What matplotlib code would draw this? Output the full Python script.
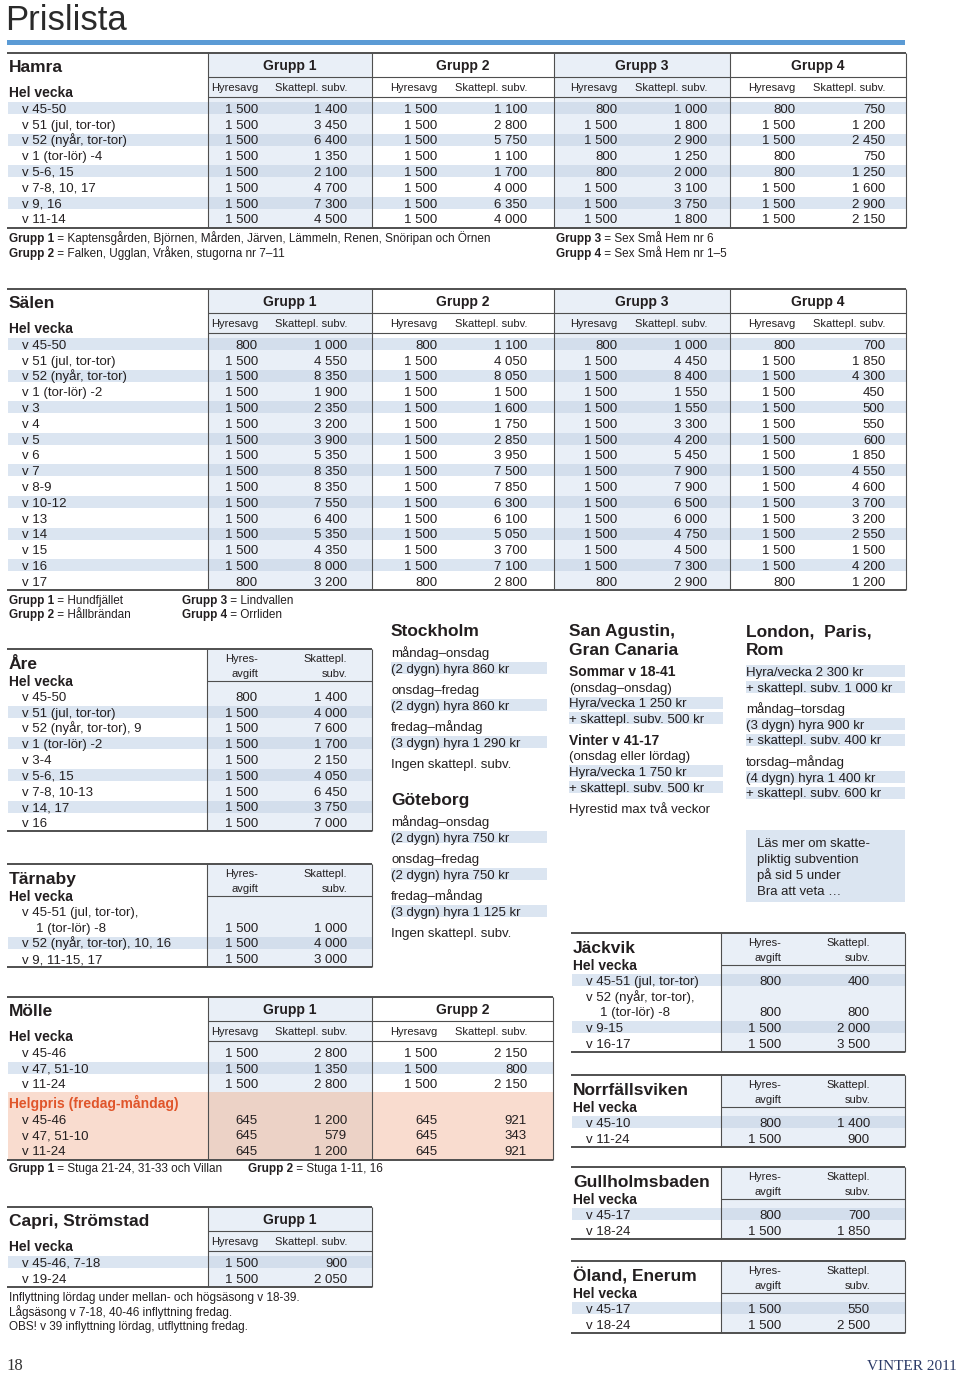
import matplotlib
matplotlib.use("Agg")
import matplotlib.pyplot as plt
from matplotlib.patches import Rectangle

# ---- data ----
hamra_labels = ["v 45-50", "v 51 (jul, tor-tor)", "v 52 (nyår, tor-tor)", "v 1 (tor-lör) -4",
                "v 5-6, 15", "v 7-8, 10, 17", "v 9, 16", "v 11-14"]
hamra_hyres = [[1500, 1500, 1500, 1500, 1500, 1500, 1500, 1500],
               [1500, 1500, 1500, 1500, 1500, 1500, 1500, 1500],
               [800, 1500, 1500, 800, 800, 1500, 1500, 1500],
               [800, 1500, 1500, 800, 800, 1500, 1500, 1500]]
hamra_skatt = [[1400, 3450, 6400, 1350, 2100, 4700, 7300, 4500],
               [1100, 2800, 5750, 1100, 1700, 4000, 6350, 4000],
               [1000, 1800, 2900, 1250, 2000, 3100, 3750, 1800],
               [750, 1200, 2450, 750, 1250, 1600, 2900, 2150]]
hamra_notes = [("Grupp 1", " = Kaptensgården, Björnen, Mården, Järven, Lämmeln, Renen, Snöripan och Örnen"),
               ("Grupp 2", " = Falken, Ugglan, Vråken, stugorna nr 7–11"),
               ("Grupp 3", " = Sex Små Hem nr 6"),
               ("Grupp 4", " = Sex Små Hem nr 1–5")]

salen_labels = ["v 45-50", "v 51 (jul, tor-tor)", "v 52 (nyår, tor-tor)", "v 1 (tor-lör) -2", "v 3", "v 4",
                "v 5", "v 6", "v 7", "v 8-9", "v 10-12", "v 13", "v 14", "v 15", "v 16", "v 17"]
salen_hyres = [[800, 1500, 1500, 1500, 1500, 1500, 1500, 1500, 1500, 1500, 1500, 1500, 1500, 1500, 1500, 800],
               [800, 1500, 1500, 1500, 1500, 1500, 1500, 1500, 1500, 1500, 1500, 1500, 1500, 1500, 1500, 800],
               [800, 1500, 1500, 1500, 1500, 1500, 1500, 1500, 1500, 1500, 1500, 1500, 1500, 1500, 1500, 800],
               [800, 1500, 1500, 1500, 1500, 1500, 1500, 1500, 1500, 1500, 1500, 1500, 1500, 1500, 1500, 800]]
salen_skatt = [[1000, 4550, 8350, 1900, 2350, 3200, 3900, 5350, 8350, 8350, 7550, 6400, 5350, 4350, 8000, 3200],
               [1100, 4050, 8050, 1500, 1600, 1750, 2850, 3950, 7500, 7850, 6300, 6100, 5050, 3700, 7100, 2800],
               [1000, 4450, 8400, 1550, 1550, 3300, 4200, 5450, 7900, 7900, 6500, 6000, 4750, 4500, 7300, 2900],
               [700, 1850, 4300, 450, 500, 550, 600, 1850, 4550, 4600, 3700, 3200, 2550, 1500, 4200, 1200]]
salen_notes = [("Grupp 1", " = Hundfjället"), ("Grupp 2", " = Hållbrändan"),
               ("Grupp 3", " = Lindvallen"), ("Grupp 4", " = Orrliden")]

are_labels = ["v 45-50", "v 51 (jul, tor-tor)", "v 52 (nyår, tor-tor), 9", "v 1 (tor-lör) -2", "v 3-4",
              "v 5-6, 15", "v 7-8, 10-13", "v 14, 17", "v 16"]
are_hyres = [800, 1500, 1500, 1500, 1500, 1500, 1500, 1500, 1500]
are_skatt = [1400, 4000, 7600, 1700, 2150, 4050, 6450, 3750, 7000]

tarnaby_labels = ["v 45-51 (jul, tor-tor),\n1 (tor-lör) -8", "v 52 (nyår, tor-tor), 10, 16", "v 9, 11-15, 17"]
tarnaby_hyres = [1500, 1500, 1500]
tarnaby_skatt = [1000, 4000, 3000]

molle_labels = ["v 45-46", "v 47, 51-10", "v 11-24"]
molle_hyres = [[1500, 1500, 1500], [1500, 1500, 1500]]
molle_skatt = [[2800, 1350, 2800], [2150, 800, 2150]]
molle_helg_hyres = [[645, 645, 645], [645, 645, 645]]
molle_helg_skatt = [[1200, 579, 1200], [921, 343, 921]]
molle_notes = [("Grupp 1", " = Stuga 21-24, 31-33 och Villan"), ("Grupp 2", " = Stuga 1-11, 16")]

capri_labels = ["v 45-46, 7-18", "v 19-24"]
capri_hyres = [[1500, 1500]]
capri_skatt = [[900, 2050]]
capri_notes = ["Inflyttning lördag under mellan- och högsäsong v 18-39.",
               "Lågsäsong v 7-18, 40-46 inflyttning fredag.",
               "OBS! v 39 inflyttning lördag, utflyttning fredag."]

jackvik_labels = ["v 45-51 (jul, tor-tor)", "v 52 (nyår, tor-tor),\n1 (tor-lör) -8", "v 9-15", "v 16-17"]
jackvik_hyres = [800, 800, 1500, 1500]
jackvik_skatt = [400, 800, 2000, 3500]

norr_labels = ["v 45-10", "v 11-24"]
norr_hyres = [800, 1500]
norr_skatt = [1400, 900]

gull_labels = ["v 45-17", "v 18-24"]
gull_hyres = [800, 1500]
gull_skatt = [700, 1850]

oland_labels = ["v 45-17", "v 18-24"]
oland_hyres = [1500, 1500]
oland_skatt = [550, 2500]

stockholm = [["måndag–onsdag", "(2 dygn) hyra 860 kr"], ["onsdag–fredag", "(2 dygn) hyra 860 kr"],
             ["fredag–måndag", "(3 dygn) hyra 1 290 kr"], ["Ingen skattepl. subv."]]
goteborg = [["måndag–onsdag", "(2 dygn) hyra 750 kr"], ["onsdag–fredag", "(2 dygn) hyra 750 kr"],
            ["fredag–måndag", "(3 dygn) hyra 1 125 kr"], ["Ingen skattepl. subv."]]
sanagustin = [["Sommar v 18-41", "(onsdag–onsdag)", "Hyra/vecka 1 250 kr", "+ skattepl. subv. 500 kr"],
              ["Vinter v 41-17", "(onsdag eller lördag)", "Hyra/vecka 1 750 kr", "+ skattepl. subv. 500 kr"],
              ["Hyrestid max två veckor"]]
london = [["Hyra/vecka 2 300 kr", "+ skattepl. subv. 1 000 kr"],
          ["måndag–torsdag", "(3 dygn) hyra 900 kr", "+ skattepl. subv. 400 kr"],
          ["torsdag–måndag", "(4 dygn) hyra 1 400 kr", "+ skattepl. subv. 600 kr"]]
lasmer = ["Läs mer om skatte-", "pliktig subvention", "på sid 5 under", "Bra att veta …"]

# ---- drawing ----
W, H = 960, 1375
fig = plt.figure(figsize=(9.6, 13.75), dpi=100)
ax = fig.add_axes([0, 0, 1, 1])
ax.axis("off")
R = fig.canvas.get_renderer()

FONT = ["Liberation Sans", "DejaVu Sans"]
INK = "#231f20"
STRIPE = "#dbe5f1"
TINT = "#e9eff7"
TINT_STRIPE = "#d3deec"
RULE = "#4f4f4f"
STEP = 15.8


def fmt(v):
    return f"{v:,}".replace(",", " ")


def txt(x, y, s, size=9.5, bold=False, ha="left", color=INK, va="center", family=FONT):
    # y is the visual middle of the capitals, so shift to a baseline
    if va == "center":
        va = "baseline"
        y = y + 0.36 * size * 100 / 72
    return ax.text(x, y, s, fontsize=size, fontweight="bold" if bold else "normal", ha=ha, va=va,
                   color=color, family=family, zorder=3)


def rect(x0, y0, x1, y1, color, z=0):
    ax.add_patch(Rectangle((x0, y0), x1 - x0, y1 - y0, facecolor=color, edgecolor="none", zorder=z))


def hline(x0, x1, y, lw=0.8, color=RULE):
    ax.plot([x0, x1], [y, y], color=color, lw=lw, solid_capstyle="butt", zorder=2)


def vline(x, y0, y1, lw=0.8, color=RULE):
    ax.plot([x, x], [y0, y1], color=color, lw=lw, solid_capstyle="butt", zorder=2)


def underlined(x, y, s, size=10, color=INK):
    t = txt(x, y, s, size, True, color=color)
    bb = t.get_window_extent(renderer=R)
    yl = H - bb.y0 - 1.5
    ax.plot([bb.x0, bb.x1], [yl, yl], color=color, lw=1.0, solid_capstyle="butt", zorder=3)


def boldpair(x, y, b, rest, size=8.5):
    t = txt(x, y, b, size, True)
    w = t.get_window_extent(renderer=R).width
    txt(x + w, y, rest, size)


def group_table(top, title, labels, hyres, skatt, edges, hx, sx, tinted, stripe_odd, extra=0.0, x0=7):
    n = len(labels)
    first = top + 55
    bottom = first + (n - 1) * STEP + 9 + extra
    right = edges[-1]
    for g in range(len(edges) - 1):
        if tinted[g]:
            rect(edges[g], top, edges[g + 1], bottom, TINT)
    for i in range(n):
        y = first + i * STEP
        if (i % 2 == 1) == stripe_odd:
            rect(x0 + 1, y - 6, edges[0], y + 6, STRIPE, 0.5)
            for g in range(len(edges) - 1):
                rect(edges[g], y - 6, edges[g + 1], y + 6, TINT_STRIPE if tinted[g] else STRIPE, 0.5)
        txt(x0 + 15, y, labels[i])
        for g in range(len(edges) - 1):
            txt(hx[g], y, fmt(hyres[g][i]), ha="right")
            txt(sx[g], y, fmt(skatt[g][i]), ha="right")
    hline(x0, right, top, 1.4)
    hline(x0, right, bottom, 1.4)
    hline(edges[0], right, top + 24)
    hline(edges[0], right, top + 44)
    for e in edges:
        vline(e, top, bottom)
    txt(x0 + 2, top + 13, title, 12.5, True)
    underlined(x0 + 2, top + 39, "Hel vecka")
    for g in range(len(edges) - 1):
        txt((edges[g] + edges[g + 1]) / 2, top + 12, f"Grupp {g + 1}", 10, True, ha="center")
        txt(hx[g], top + 34, "Hyresavg", 8, ha="right")
        txt(sx[g], top + 34, "Skattepl. subv.", 8, ha="right")
    return first, bottom


def small_table(x0, xv, x1, top, title, labels, hyres, skatt, hx, sx, stripe_odd):
    first = top + 47
    total = sum(len(l.split("\n")) for l in labels)
    bottom = first + (total - 1) * STEP + 9
    rect(xv, top, x1, bottom, TINT)
    slot = 0
    for i, lab in enumerate(labels):
        lines = lab.split("\n")
        ylast = first + (slot + len(lines) - 1) * STEP
        if (i % 2 == 1) == stripe_odd:
            rect(x0 + 1, ylast - 6, xv, ylast + 6, STRIPE, 0.5)
            rect(xv, ylast - 6, x1, ylast + 6, TINT_STRIPE, 0.5)
        for j, line in enumerate(lines):
            txt(x0 + 15 + (14 if j else 0), first + (slot + j) * STEP, line)
        txt(hx, ylast, fmt(hyres[i]), ha="right")
        txt(sx, ylast, fmt(skatt[i]), ha="right")
        slot += len(lines)
    hline(x0, x1, top, 1.4)
    hline(x0, x1, bottom, 1.4)
    hline(xv, x1, top + 32)
    vline(xv, top, bottom)
    vline(x1, top, bottom)
    txt(x0 + 2, top + 14, title, 12.5, True)
    underlined(x0 + 2, top + 32, "Hel vecka")
    txt(hx, top + 9, "Hyres-", 8, ha="right")
    txt(hx, top + 24, "avgift", 8, ha="right")
    txt(sx, top + 9, "Skattepl.", 8, ha="right")
    txt(sx, top + 24, "subv.", 8, ha="right")


def info_block(x, x1, titles, y_title, groups):
    for k, t in enumerate(titles):
        txt(x, y_title + k * 19, t, 12.5, True)
    y = y_title + (len(titles) - 1) * 19 + 22
    for grp in groups:
        for line in grp:
            if "kr" in line:
                rect(x, y - 6, x1, y + 6, STRIPE, 0.5)
            bold = line.startswith(("Sommar", "Vinter"))
            txt(x, y, line, 10 if bold else 9.5, bold)
            y += STEP
        y += 5.5


# header
txt(5, 30, "Prislista", 25, va="baseline", color="#2a2a2a")
rect(7, 40, 905, 45, "#5b9bd5")

# Hamra
edges4 = [208, 372, 554, 730, 906]
hx4 = [258, 437, 617, 795]
sx4 = [347, 527, 707, 885]
group_table(53, "Hamra", hamra_labels, hamra_hyres, hamra_skatt, edges4, hx4, sx4,
            [True, False, True, False], False)
boldpair(9, 238, *hamra_notes[0])
boldpair(9, 253, *hamra_notes[1])
boldpair(556, 238, *hamra_notes[2])
boldpair(556, 253, *hamra_notes[3])

# Sälen
group_table(289, "Sälen", salen_labels, salen_hyres, salen_skatt, edges4, hx4, sx4,
            [True, False, True, False], False)
boldpair(9, 600, *salen_notes[0])
boldpair(9, 614, *salen_notes[1])
boldpair(182, 600, *salen_notes[2])
boldpair(182, 614, *salen_notes[3])

# Åre, Tärnaby
small_table(7, 207, 372, 649, "Åre", are_labels, are_hyres, are_skatt, 258, 347, True)
small_table(7, 207, 372, 864, "Tärnaby", tarnaby_labels, tarnaby_hyres, tarnaby_skatt, 258, 347, True)

# Mölle with weekend section
edges2 = [208, 372, 553]
extra = 3 * STEP + 4 + STEP
first, bottom = group_table(997, "Mölle", molle_labels, molle_hyres, molle_skatt, edges2, hx4[:2], sx4[:2],
                            [True, False], True, extra=extra)
salmon_top = first + (len(molle_labels) - 1) * STEP + 8
rect(8, salmon_top, edges2[-1], bottom, "#f9dccf", 0.6)
rect(edges2[0], salmon_top, edges2[1], bottom, "#ecd2c6", 0.6)
hy = salmon_top + 11.5
underlined(9, hy, "Helgpris (fredag-måndag)", 10, "#e0552a")
for i, lab in enumerate(molle_labels):
    y = hy + (i + 1) * STEP
    txt(22, y, lab)
    for g in range(2):
        txt(hx4[g], y, fmt(molle_helg_hyres[g][i]), ha="right")
        txt(sx4[g], y, fmt(molle_helg_skatt[g][i]), ha="right")
boldpair(9, 1168, *molle_notes[0])
boldpair(248, 1168, *molle_notes[1])

# Capri
group_table(1207, "Capri, Strömstad", capri_labels, capri_hyres, capri_skatt, [208, 372], [258], [347],
            [True], False)
for k, line in enumerate(capri_notes):
    txt(9, 1297 + k * 14.5, line, 8.5)

# text blocks
info_block(391, 547, ["Stockholm"], 630, stockholm)
info_block(391, 547, ["Göteborg"], 799, goteborg)
info_block(569, 723, ["San Agustin,", "Gran Canaria"], 630, sanagustin)
info_block(746, 905, ["London,  Paris,", "Rom"], 630, london)
rect(746, 830, 905, 902, STRIPE)
for k, line in enumerate(lasmer):
    txt(757, 842 + k * 16, line, 9.5)

# right-hand small tables
small_table(571, 721, 905, 933, "Jäckvik", jackvik_labels, jackvik_hyres, jackvik_skatt, 781, 870, False)
small_table(571, 721, 905, 1075, "Norrfällsviken", norr_labels, norr_hyres, norr_skatt, 781, 870, False)
small_table(571, 721, 905, 1167, "Gullholmsbaden", gull_labels, gull_hyres, gull_skatt, 781, 870, False)
small_table(571, 721, 905, 1261, "Öland, Enerum", oland_labels, oland_hyres, oland_skatt, 781, 870, False)

# footer
serif = ["Liberation Serif", "DejaVu Serif"]
txt(6, 1370, "18", 12, color="#333333", va="baseline", family=serif)
txt(957, 1370, "VINTER 2011", 11, ha="right", color="#2b3a67", va="baseline", family=serif)

ax.set_xlim(0, W)
ax.set_ylim(H, 0)
fig.savefig("out.png", dpi=100)
